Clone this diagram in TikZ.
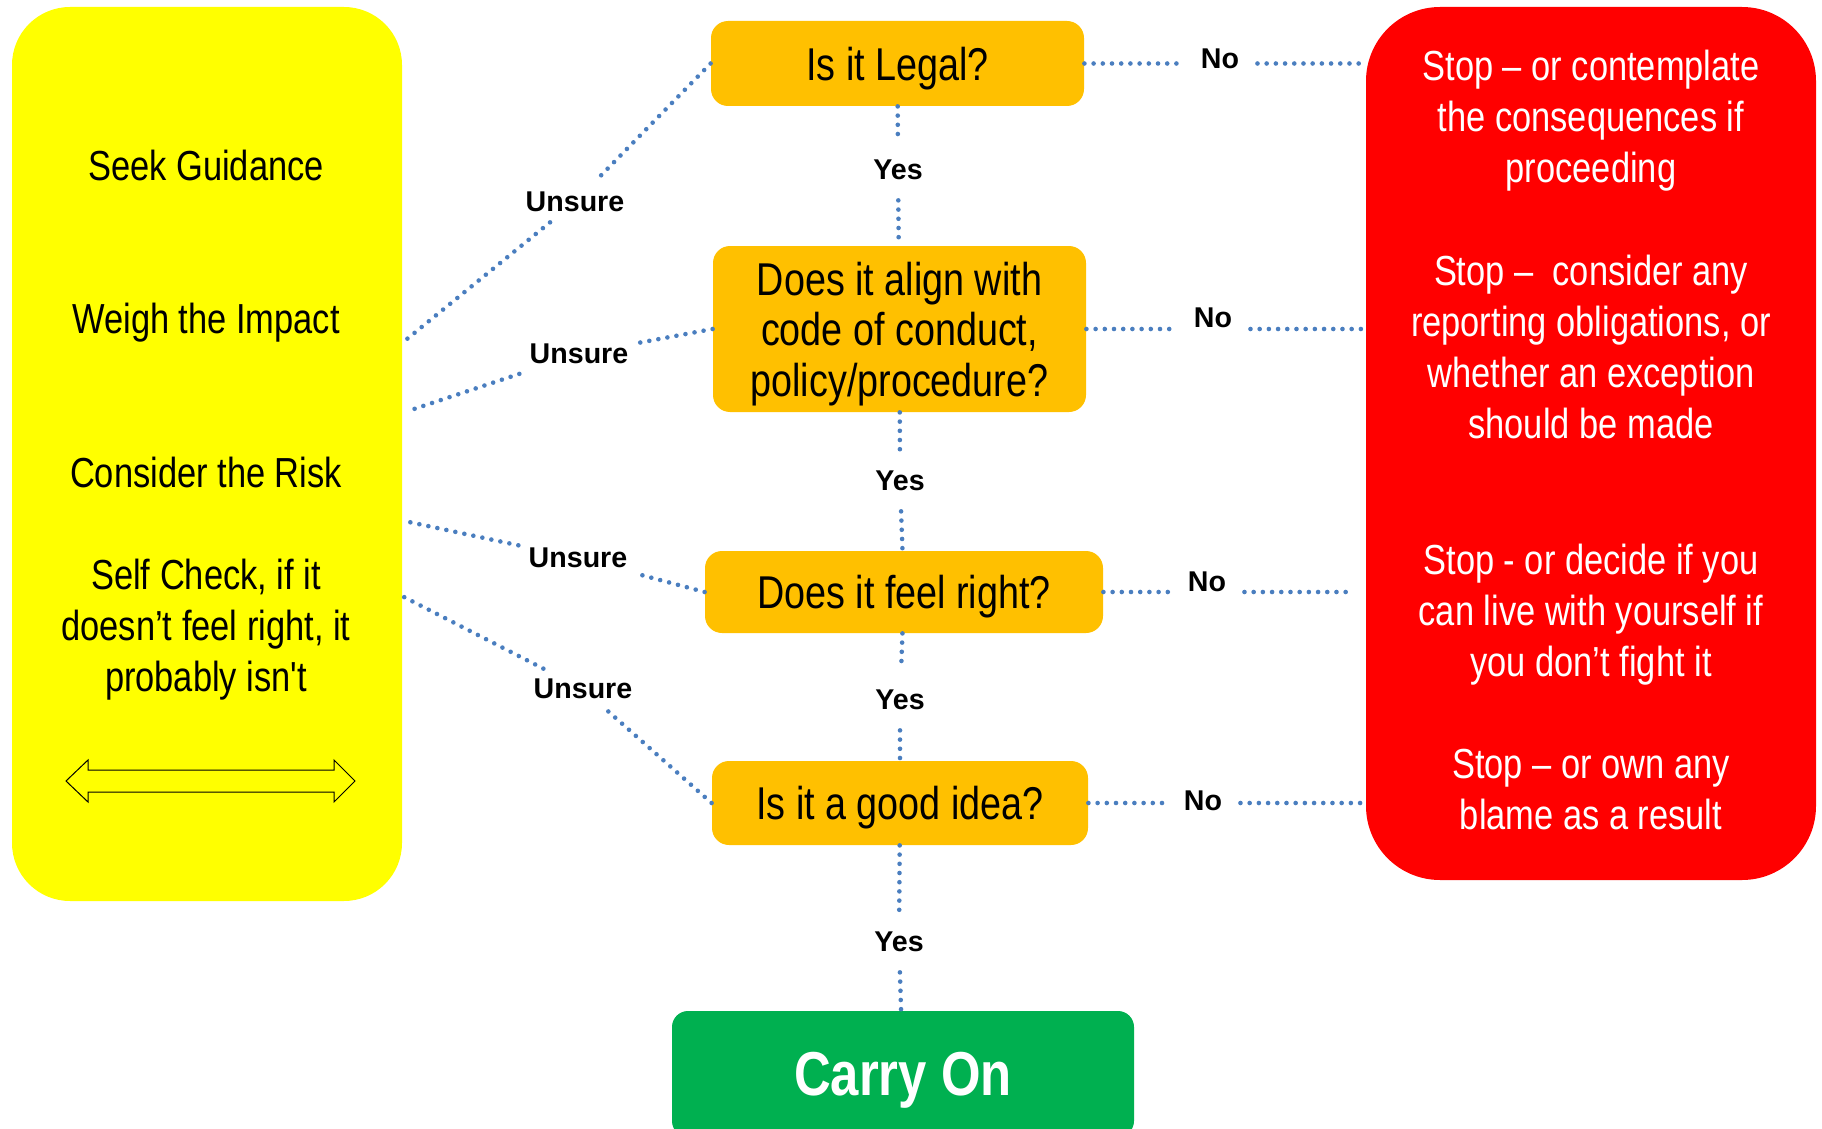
\documentclass[tikz,border=0pt]{standalone}
\usepackage{fontspec}
\setmainfont{Liberation Sans}
\newfontfamily\narrowfont[FakeStretch=0.82,Ligatures=TeXOff]{Liberation Sans}

\definecolor{guideyellow}{HTML}{FFFF00}
\definecolor{stopred}{HTML}{FF0000}
\definecolor{askorange}{HTML}{FFC000}
\definecolor{gogreen}{HTML}{00B050}
\definecolor{dotblue}{HTML}{4A7EBF}

\tikzset{
  question/.style={fill=askorange, rounded corners=8.5pt, inner sep=0pt, align=center, text depth=0pt,
    font=\narrowfont\fontsize{23}{25.3}\selectfont},
  panel/.style={rounded corners=#1, inner sep=0pt},
  paneltext/.style={align=center, text depth=0pt, font=\narrowfont\fontsize{21}{25.5}\selectfont},
  answer/.style={font=\bfseries\fontsize{14.3}{16}\selectfont, inner sep=5pt},
  dotline/.style={dotblue, line width=2.3pt, line cap=round, dash pattern=on 0pt off 4.6pt},
}

\begin{document}
\begin{tikzpicture}[x=0.5pt,y=-0.5pt]
    \useasboundingbox (0,0) rectangle (1822,1129);
    \clip (0,0) rectangle (1822,1129);
    \node[panel=29pt, fill=guideyellow, minimum width=195pt, minimum height=447pt] (guide) at (207,454) {};
    \node[panel=37pt, fill=stopred, minimum width=225pt, minimum height=436.5pt] (stop) at (1591,443.5) {};
    \node[panel=8pt, fill=gogreen, minimum width=231pt, minimum height=63pt, text=white, text depth=0pt,
      font=\narrowfont\bfseries\fontsize{31}{31}\selectfont] (carry) at (903,1074) {Carry On};

    \node[paneltext] (seek) at (206,165) {Seek Guidance};
    \node[paneltext] (weigh) at (206,318) {Weigh the Impact};
    \node[paneltext] (risk) at (206,472) {Consider the Risk};
    \node[paneltext] (check) at (206,625) {Self Check, if it\\doesn’t feel right, it\\probably isn't};
    \draw[fill=guideyellow, line width=0.5pt] (66,781) -- (88,760) -- (88,770) -- (334,770)
      -- (334,760) -- (355,781) -- (334,802) -- (334,792) -- (88,792) -- (88,802) -- cycle;

    \node[paneltext, text=white] (stop1) at (1591,116) {Stop – or contemplate\\the consequences if\\proceeding};
    \node[paneltext, text=white] (stop2) at (1591,347) {Stop –~ consider any\\reporting obligations, or\\whether an exception\\should be made};
    \node[paneltext, text=white] (stop3) at (1591,610) {Stop - or decide if you\\can live with yourself if\\you don’t fight it};
    \node[paneltext, text=white] (stop4) at (1591,789) {Stop – or own any\\blame as a result};

    \node[question, minimum width=186.5pt, minimum height=42.5pt] (legal) at (897.5,63.5) {Is it Legal?};
    \node[question, minimum width=186.5pt, minimum height=83pt] (conduct) at (899.5,329) {Does it align with\\code of conduct,\\policy/procedure?};
    \node[question, minimum width=199pt, minimum height=41pt] (right) at (904,592) {Does it feel right?};
    \node[question, minimum width=188pt, minimum height=42pt] (idea) at (900,803) {Is it a good idea?};

    \node[answer, inner ysep=10pt] (yes1) at (898,170) {Yes};
    \node[answer, inner ysep=10pt] (yes2) at (900,481) {Yes};
    \node[answer, inner ysep=10pt] (yes3) at (900,700) {Yes};
    \node[answer, inner ysep=10pt] (yes4) at (899,942) {Yes};
    \node[answer, inner xsep=9pt] (no1) at (1220,59) {No};
    \node[answer, inner xsep=9pt] (no2) at (1213,318) {No};
    \node[answer, inner xsep=9pt] (no3) at (1207,582) {No};
    \node[answer, inner xsep=9pt] (no4) at (1203,801) {No};
    \node[answer] (unsure1) at (575,202) {Unsure};
    \node[answer] (unsure2) at (579,354) {Unsure};
    \node[answer] (unsure3) at (578,558) {Unsure};
    \node[answer] (unsure4) at (583,689) {Unsure};

    \coordinate (g1) at (407,339);
    \coordinate (g2) at (414,409);
    \coordinate (g3) at (409,522);
    \coordinate (g4) at (402,596);

    \draw[dotline] (legal) -- (yes1);
    \draw[dotline] (yes1) -- (conduct);
    \draw[dotline] (conduct) -- (yes2);
    \draw[dotline] (yes2) -- (right);
    \draw[dotline] (right) -- (yes3);
    \draw[dotline] (yes3) -- (idea);
    \draw[dotline] (idea) -- (yes4);
    \draw[dotline] (yes4) -- (carry);

    \draw[dotline] (legal.east) -- (legal.east -| no1.west);
    \draw[dotline] (legal.east -| no1.east) -- (legal.east -| stop.west);
    \draw[dotline] (conduct.east) -- (conduct.east -| no2.west);
    \draw[dotline] (conduct.east -| no2.east) -- (conduct.east -| stop.west);
    \draw[dotline] (right.east) -- (right.east -| no3.west);
    \draw[dotline] (right.east -| no3.east) -- ([xshift=-7pt]right.east -| stop.west);
    \draw[dotline] (idea.east) -- (idea.east -| no4.west);
    \draw[dotline] (idea.east -| no4.east) -- (idea.east -| stop.west);

    \draw[dotline] (legal.west) -- (unsure1);
    \draw[dotline] (unsure1) -- (g1);
    \draw[dotline] (conduct.west) -- (unsure2);
    \draw[dotline] (unsure2) -- (g2);
    \draw[dotline] (right.west) -- (unsure3);
    \draw[dotline] (unsure3) -- (g3);
    \draw[dotline] (idea.west) -- (unsure4);
    \draw[dotline] (unsure4) -- (g4);
\end{tikzpicture}
\end{document}
